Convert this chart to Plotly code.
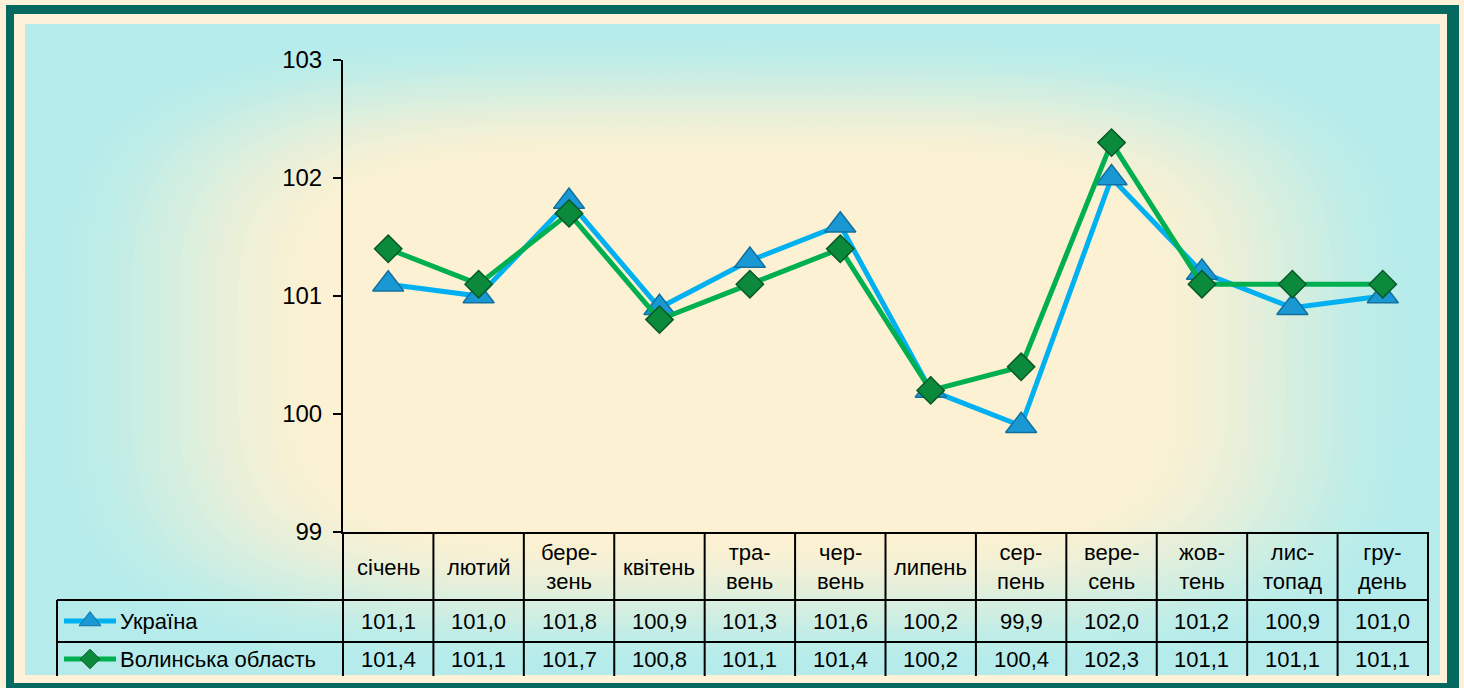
import math
import plotly.graph_objects as go

# ---------------- data ----------------
months = ["січень", "лютий", "бере-<br>зень", "квітень", "тра-<br>вень", "чер-<br>вень",
          "липень", "сер-<br>пень", "вере-<br>сень", "жов-<br>тень", "лис-<br>топад", "гру-<br>день"]
ukraine = [101.1, 101.0, 101.8, 100.9, 101.3, 101.6, 100.2, 99.9, 102.0, 101.2, 100.9, 101.0]
volyn = [101.4, 101.1, 101.7, 100.8, 101.1, 101.4, 100.2, 100.4, 102.3, 101.1, 101.1, 101.1]
series_names = ["Україна", "Волинська область"]
y_ticks = [99, 100, 101, 102, 103]

W, H = 1464, 688
FONT = "Liberation Sans, Arial, sans-serif"


def px(x):
    return x / W


def py(y):
    return 1 - y / H


# plot area in pixels
X0, X1 = 343, 1428
Y0, Y1 = 60, 532

shapes = []
# frame
shapes.append(dict(type="rect", xref="paper", yref="paper", x0=px(6), x1=px(1459), y0=py(5), y1=py(700),
                   fillcolor="#06695F", line=dict(width=0), layer="below"))
shapes.append(dict(type="rect", xref="paper", yref="paper", x0=px(14), x1=px(1447), y0=py(14), y1=py(683),
                   fillcolor="#FDF1DA", line=dict(width=0), layer="below"))

# gradient background (edges cyan -> centre light yellow), super-elliptical rings
gx0, gx1, gy0, gy1 = 25, 1440, 24, 675
cx, cy = (gx0 + gx1) / 2, (gy0 + gy1) / 2
hw, hh = (gx1 - gx0) / 2, (gy1 - gy0) / 2
c_edge = (181, 236, 235)
c_mid = (252, 241, 210)
shapes.append(dict(type="rect", xref="paper", yref="paper", x0=px(gx0), x1=px(gx1), y0=py(gy0), y1=py(gy1),
                   fillcolor="rgb(%d,%d,%d)" % c_edge, line=dict(width=0), layer="below"))
NEXP = 4.0
NPTS = 72


def ring_path(r):
    pts = []
    for k in range(NPTS):
        a = 2 * math.pi * k / NPTS
        ca, sa = math.cos(a), math.sin(a)
        xx = cx + hw * r * math.copysign(abs(ca) ** (2 / NEXP), ca)
        yy = cy + hh * r * math.copysign(abs(sa) ** (2 / NEXP), sa)
        pts.append("%.5f,%.5f" % (px(xx), py(yy)))
    return "M" + "L".join(pts) + "Z"


N = 60
for i in range(N):
    r = 1.0 - i / N
    t = max(0.0, min(1.0, (1.0 - r) / 0.42))
    t = t * t * (3 - 2 * t)
    col = tuple(round(c_edge[k] + (c_mid[k] - c_edge[k]) * t) for k in range(3))
    shapes.append(dict(type="path", xref="paper", yref="paper", path=ring_path(r),
                       fillcolor="rgb(%d,%d,%d)" % col, line=dict(width=0), layer="below"))

# table lines
LC = "black"
LW = 2
col_w = (X1 - X0) / len(months)
for i in range(len(months) + 1):
    xx = X0 + i * col_w
    shapes.append(dict(type="line", xref="paper", yref="paper", x0=px(xx), x1=px(xx),
                       y0=py(Y1), y1=py(676), line=dict(color=LC, width=LW)))
for yy, xs in [(600, 57), (642, 57)]:
    shapes.append(dict(type="line", xref="paper", yref="paper", x0=px(xs), x1=px(X1),
                       y0=py(yy), y1=py(yy), line=dict(color=LC, width=LW)))
shapes.append(dict(type="line", xref="paper", yref="paper", x0=px(57), x1=px(57),
                   y0=py(600), y1=py(676), line=dict(color=LC, width=LW)))

annotations = []
row_y = [621, 659]
TS = 22
for i, m in enumerate(months):
    annotations.append(dict(x=i, xref="x", y=py(567), yref="paper", text=m, showarrow=False,
                            font=dict(family=FONT, size=TS, color="black"), xanchor="center", yanchor="middle"))
    for vals, ry in [(ukraine, row_y[0]), (volyn, row_y[1])]:
        annotations.append(dict(x=i, xref="x", y=py(ry), yref="paper",
                                text=("%.1f" % vals[i]).replace(".", ","), showarrow=False,
                                font=dict(family=FONT, size=TS, color="black"), xanchor="center", yanchor="middle"))
for name, ry in zip(series_names, row_y):
    annotations.append(dict(x=px(118), xref="paper", y=py(ry), yref="paper", text=name, showarrow=False,
                            font=dict(family=FONT, size=TS, color="black"), xanchor="left", yanchor="middle"))

line_colors = ["#00B0F0", "#00B050"]
marker_syms = ["triangle-up", "diamond"]
marker_fill = ["#1A98D4", "#0C8A3C"]
marker_edge = ["#12709E", "#075A28"]
marker_size = [27, 21]

fig = go.Figure()
for name, vals, lc, sym, mf, me, ms in zip(series_names, [ukraine, volyn], line_colors, marker_syms,
                                            marker_fill, marker_edge, marker_size):
    fig.add_trace(go.Scatter(x=months, y=vals, name=name, mode="lines+markers",
                             line=dict(color=lc, width=5),
                             marker=dict(symbol=sym, size=ms, color=mf, line=dict(color=me, width=1.5)),
                             showlegend=False, cliponaxis=False))

# legend keys in table rows (pixel overlay axes)
for lc, sym, mf, me, ms, ry in zip(line_colors, marker_syms, marker_fill, marker_edge, [19, 15], row_y):
    fig.add_trace(go.Scatter(x=[64, 90, 116], y=[ry, ry, ry], xaxis="x2", yaxis="y2", mode="lines",
                             line=dict(color=lc, width=5), showlegend=False, hoverinfo="skip"))
    fig.add_trace(go.Scatter(x=[90], y=[ry], xaxis="x2", yaxis="y2", mode="markers",
                             marker=dict(symbol=sym, size=ms, color=mf, line=dict(color=me, width=1)),
                             showlegend=False, hoverinfo="skip"))

fig.update_layout(
    width=W, height=H,
    autosize=False,
    margin=dict(l=0, r=0, t=0, b=0, pad=0, autoexpand=False),
    paper_bgcolor="#FDF1DA",
    plot_bgcolor="rgba(0,0,0,0)",
    font=dict(family=FONT, color="black"),
    shapes=shapes,
    annotations=annotations,
    xaxis=dict(domain=[px(X0), px(X1)], type="category", range=[-0.5, len(months) - 0.5],
               showticklabels=False, ticks="", showgrid=False, zeroline=False, automargin=False,
               showline=True, linecolor="black", linewidth=2),
    yaxis=dict(domain=[py(Y1), py(Y0)], range=[99, 103], tickvals=y_ticks, automargin=False,
               ticktext=[str(v) for v in y_ticks], ticks="outside", ticklen=8, tickwidth=2,
               tickcolor="black", showgrid=False, zeroline=False, showline=True,
               linecolor="black", linewidth=2, tickfont=dict(family=FONT, size=24, color="black"),
               ticklabelstandoff=6),
    xaxis2=dict(domain=[0, 1], range=[0, W], visible=False, anchor="y2", automargin=False),
    yaxis2=dict(domain=[0, 1], range=[H, 0], visible=False, anchor="x2", automargin=False),
)

fig.write_html("out.html", config={"displayModeBar": False},
               post_script="document.body.style.margin='0';document.body.style.background='#FDF1DA';")
